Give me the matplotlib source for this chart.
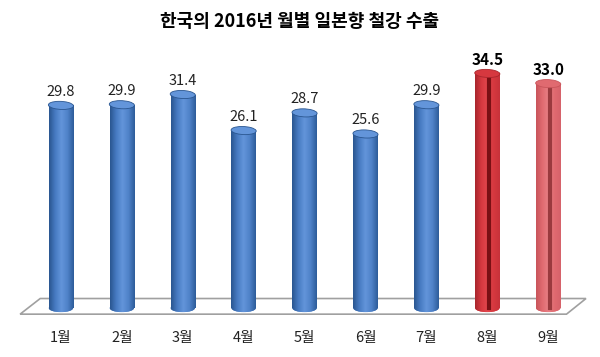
import numpy as np
import matplotlib.pyplot as plt
from matplotlib.patches import Rectangle, Ellipse, Polygon
from matplotlib.colors import LinearSegmentedColormap

plt.rcParams['font.family'] = ['Noto Sans CJK KR', 'DejaVu Sans']

months = ['1월', '2월', '3월', '4월', '5월', '6월', '7월', '8월', '9월']
values = [29.8, 29.9, 31.4, 26.1, 28.7, 25.6, 29.9, 34.5, 33.0]
highlight = [False] * 7 + [True, True]
title = '한국의 2016년 월별 일본향 철강 수출'

blue = ['#2a5690', '#477bc2', '#6395da', '#4f82c8', '#2d5c9a']
red8 = ['#a8262c', '#d6383f', '#e2474d', '#7a1014', '#c8323a']
red9 = ['#c8545a', '#e06a70', '#e88085', '#9a3a3e', '#d6626a']

fig = plt.figure(figsize=(6, 3.57), dpi=100)
ax = fig.add_axes([0, 0, 1, 1])
ax.set_xlim(-1.0, 8.85)
ax.set_ylim(-7.2, 45.3)
ax.axis('off')

# floor
floor = Polygon([(-0.67, -0.9), (8.3, -0.9), (8.62, 1.4), (-0.34, 1.4)],
                closed=True, facecolor='white', edgecolor='#a0a0a0', lw=1.2, zorder=1)
ax.add_patch(floor)

w = 0.4
eh = 1.2
for i, (v, hl) in enumerate(zip(values, highlight)):
    cols = blue if not hl else (red8 if i == 7 else red9)
    cmap = LinearSegmentedColormap.from_list('c', cols if not hl else
                                             [cols[0], cols[1], cols[2], cols[1], cols[4]])
    bars = ax.bar(i, v, width=w, color='none', edgecolor='none', zorder=3)
    grad = np.linspace(0, 1, 100).reshape(1, -1)
    # bottom rounded end
    bot = Ellipse((i, 0), w, eh, facecolor=cols[1], edgecolor='none', zorder=2)
    ax.add_patch(bot)
    bimg = ax.imshow(grad, cmap=cmap, extent=(i - w / 2, i + w / 2, -eh / 2, v),
                     aspect='auto', zorder=3)
    clip = Rectangle((i - w / 2, 0), w, v, transform=ax.transData)
    bimg.set_clip_path(clip)
    bimg2 = ax.imshow(grad, cmap=cmap, extent=(i - w / 2, i + w / 2, -eh / 2, eh / 2),
                      aspect='auto', zorder=3)
    bimg2.set_clip_path(bot)
    if hl:
        ax.plot([i + 0.03, i + 0.03], [0, v], color=cols[3], lw=3, zorder=4)
    top = Ellipse((i, v), w * 1.02, eh, angle=3, facecolor=cols[2] if not hl else cols[1],
                  edgecolor=cols[0], lw=0.6, zorder=5)
    ax.add_patch(top)
    ax.text(i, v + 2.0, f'{v:.1f}', ha='center', va='center',
            fontsize=11 if hl else 10.5, fontweight='bold' if hl else 'normal',
            color='black' if hl else '#222222', zorder=6)
    ax.text(i, -4.4, months[i], ha='center', va='center', fontsize=10.5, color='#222222')

ax.text(0.5, 0.94, title, transform=ax.transAxes, ha='center', va='center',
        fontsize=13, fontweight='bold')

fig.savefig('out.png', dpi=100)
